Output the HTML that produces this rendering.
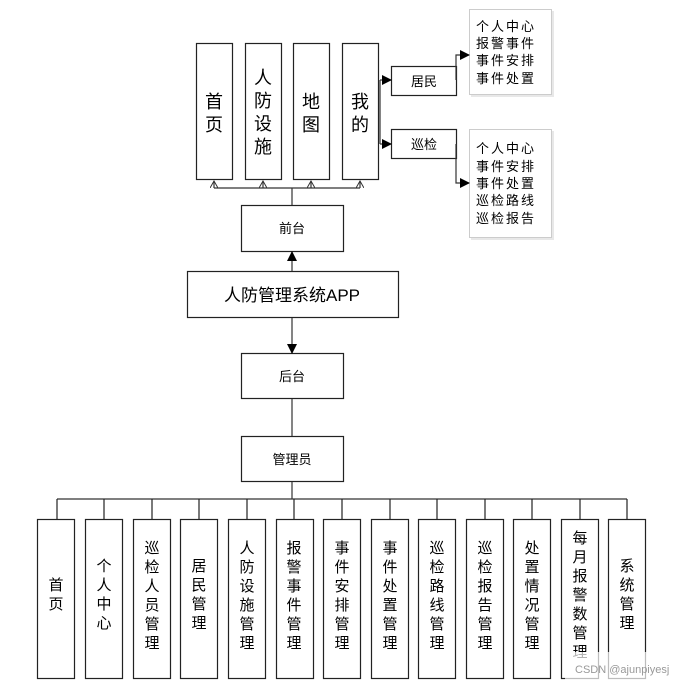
<!DOCTYPE html>
<html><head><meta charset="utf-8"><style>
body{margin:0;background:#fff}
svg{display:block}
text{font-family:"Liberation Sans","Noto Sans CJK SC",sans-serif;fill:#000}
</style></head><body>
<svg width="683" height="686" viewBox="0 0 683 686" xmlns="http://www.w3.org/2000/svg">
<defs>
<marker id="a" markerWidth="10" markerHeight="10" refX="9" refY="5" orient="auto" markerUnits="userSpaceOnUse"><path d="M0,0 L10,5 L0,10 Z" fill="#000"/></marker>
<marker id="o" markerWidth="8" markerHeight="8" refX="7" refY="4" orient="auto" markerUnits="userSpaceOnUse"><path d="M0,0 L7,4 L0,8" fill="none" stroke="#333" stroke-width="1"/></marker>
</defs>
<g stroke="#222" stroke-width="1.2" fill="#fff">
<!-- top boxes -->
<rect x="196.5" y="43.5" width="36" height="136"/>
<rect x="245.5" y="43.5" width="36" height="136"/>
<rect x="293.5" y="43.5" width="36" height="136"/>
<rect x="342.5" y="43.5" width="36" height="136"/>
<rect x="241.5" y="205.5" width="102" height="46"/>
<rect x="187.5" y="271.5" width="211" height="46"/>
<rect x="241.5" y="353.5" width="102" height="45"/>
<rect x="241.5" y="436.5" width="102" height="45"/>
<rect x="391.5" y="66.5" width="65" height="29"/>
<rect x="391.5" y="129.5" width="65" height="29"/>
</g>
<g stroke="#ccc" stroke-width="1" fill="#fff">
<rect x="471" y="11" width="83" height="86" fill="#e8e8e8" stroke="none"/>
<rect x="469.5" y="9.5" width="82" height="85"/>
<rect x="471" y="131" width="83" height="109" fill="#e8e8e8" stroke="none"/>
<rect x="469.5" y="129.5" width="82" height="108"/>
</g>
<g stroke="#333" stroke-width="1.2" fill="none">
<path d="M214,188 H360 M292,188 V205"/>
<path d="M214,188 V181" marker-end="url(#o)"/>
<path d="M263,188 V181" marker-end="url(#o)"/>
<path d="M311,188 V181" marker-end="url(#o)"/>
<path d="M360,188 V181" marker-end="url(#o)"/>
<path d="M292,271 V252" marker-end="url(#a)"/>
<path d="M292,318 V353" marker-end="url(#a)"/>
<path d="M292,399 V436 M292,482 V499 M57,499 H627"/>
<path d="M380,80 V144"/>
<path d="M380,80 H391" marker-end="url(#a)"/>
<path d="M380,144 H391" marker-end="url(#a)"/>
<path d="M456,80 V55 H469" marker-end="url(#a)"/>
<path d="M456,144 V183 H469" marker-end="url(#a)"/>
</g>
<g stroke="#222" stroke-width="1.2" fill="#fff">
<path d="M57,499V519 M104,499V519 M152,499V519 M199,499V519 M247,499V519 M294,499V519 M342,499V519 M390,499V519 M437,499V519 M485,499V519 M532,499V519 M580,499V519 M627,499V519" />
<rect x="37.5" y="519.5" width="37" height="159"/>
<rect x="85.5" y="519.5" width="37" height="159"/>
<rect x="133.5" y="519.5" width="37" height="159"/>
<rect x="180.5" y="519.5" width="37" height="159"/>
<rect x="228.5" y="519.5" width="37" height="159"/>
<rect x="276.5" y="519.5" width="37" height="159"/>
<rect x="323.5" y="519.5" width="37" height="159"/>
<rect x="371.5" y="519.5" width="37" height="159"/>
<rect x="418.5" y="519.5" width="37" height="159"/>
<rect x="466.5" y="519.5" width="37" height="159"/>
<rect x="513.5" y="519.5" width="37" height="159"/>
<rect x="561.5" y="519.5" width="37" height="159"/>
<rect x="608.5" y="519.5" width="37" height="159"/>
</g>
<g font-size="18" text-anchor="middle">
<text x="214" y="108">首</text><text x="214" y="131">页</text>
<text x="263" y="84">人</text><text x="263" y="107">防</text><text x="263" y="130">设</text><text x="263" y="153">施</text>
<text x="311" y="108">地</text><text x="311" y="131">图</text>
<text x="360" y="108">我</text><text x="360" y="131">的</text>
</g>
<g font-size="13" text-anchor="middle">
<text x="292" y="233">前台</text>
<text x="292" y="381">后台</text>
<text x="292" y="464">管理员</text>
<text x="424" y="86">居民</text>
<text x="424" y="149">巡检</text>
</g>
<text x="292" y="301" font-size="17" text-anchor="middle">人防管理系统APP</text>
<g font-size="13" letter-spacing="2">
<text x="476" y="31">个人中心</text><text x="476" y="48">报警事件</text><text x="476" y="65">事件安排</text><text x="476" y="83">事件处置</text>
<text x="476" y="153">个人中心</text><text x="476" y="171">事件安排</text><text x="476" y="188">事件处置</text><text x="476" y="205">巡检路线</text><text x="476" y="223">巡检报告</text>
</g>
<g font-size="15" text-anchor="middle">
<text x="56" y="590">首</text><text x="56" y="609">页</text>
<text x="104" y="571">个</text><text x="104" y="590">人</text><text x="104" y="609">中</text><text x="104" y="628">心</text>
<text x="152" y="553">巡</text><text x="152" y="572">检</text><text x="152" y="591">人</text><text x="152" y="610">员</text><text x="152" y="629">管</text><text x="152" y="648">理</text>
<text x="199" y="571">居</text><text x="199" y="590">民</text><text x="199" y="609">管</text><text x="199" y="628">理</text>
<text x="247" y="553">人</text><text x="247" y="572">防</text><text x="247" y="591">设</text><text x="247" y="610">施</text><text x="247" y="629">管</text><text x="247" y="648">理</text>
<text x="294" y="553">报</text><text x="294" y="572">警</text><text x="294" y="591">事</text><text x="294" y="610">件</text><text x="294" y="629">管</text><text x="294" y="648">理</text>
<text x="342" y="553">事</text><text x="342" y="572">件</text><text x="342" y="591">安</text><text x="342" y="610">排</text><text x="342" y="629">管</text><text x="342" y="648">理</text>
<text x="390" y="553">事</text><text x="390" y="572">件</text><text x="390" y="591">处</text><text x="390" y="610">置</text><text x="390" y="629">管</text><text x="390" y="648">理</text>
<text x="437" y="553">巡</text><text x="437" y="572">检</text><text x="437" y="591">路</text><text x="437" y="610">线</text><text x="437" y="629">管</text><text x="437" y="648">理</text>
<text x="485" y="553">巡</text><text x="485" y="572">检</text><text x="485" y="591">报</text><text x="485" y="610">告</text><text x="485" y="629">管</text><text x="485" y="648">理</text>
<text x="532" y="553">处</text><text x="532" y="572">置</text><text x="532" y="591">情</text><text x="532" y="610">况</text><text x="532" y="629">管</text><text x="532" y="648">理</text>
<text x="580" y="543">每</text><text x="580" y="562">月</text><text x="580" y="581">报</text><text x="580" y="600">警</text><text x="580" y="619">数</text><text x="580" y="638">管</text><text x="580" y="657">理</text>
<text x="627" y="571">系</text><text x="627" y="590">统</text><text x="627" y="609">管</text><text x="627" y="628">理</text>
</g>
<rect x="565" y="652" width="118" height="30" fill="#fff" opacity="0.7"/>
<text x="575" y="673" font-size="11" fill="#999" style="fill:#999">CSDN @ajunpiyesj</text>
</svg>
</body></html>
